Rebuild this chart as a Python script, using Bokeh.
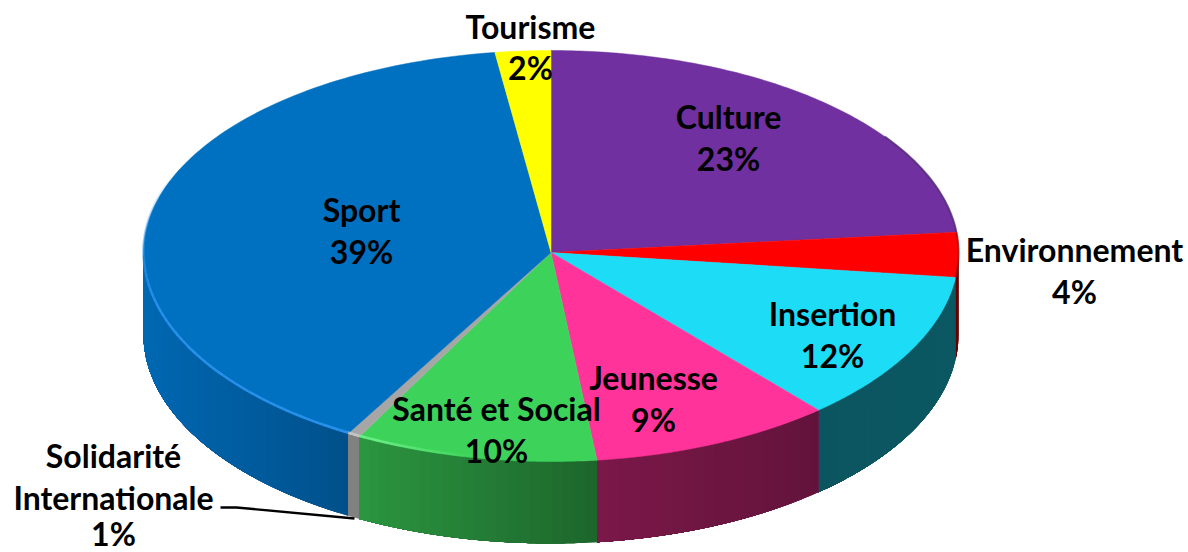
import numpy as np
from bokeh.plotting import figure
from bokeh.models import Range1d
from bokeh.core.properties import value
from bokeh.embed import file_html
from bokeh.resources import INLINE

# Data, clockwise from the top of the pie
categories = ["Culture", "Environnement", "Insertion", "Jeunesse", "Santé et Social",
              "Solidarité Internationale", "Sport", "Tourisme"]
percent_labels = [23, 4, 12, 9, 10, 1, 39, 2]
# slice shares as measured on the picture (the drawn angles)
slice_shares = [23.4, 3.5, 11.7, 9.6, 9.6, 0.5, 39.5, 2.2]
top_colors = ["#7030A0", "#FF0000", "#1DDCF6", "#FF3399", "#3DD35B", "#A6A6A6", "#0070C0", "#FFFF00"]

CX, CY, RX, RY_BACK, RY_FRONT, DEPTH = 550.5, 252.0, 407.5, 202.0, 209.0, 82.0

p = figure(width=1188, height=552, x_range=Range1d(0, 1188), y_range=Range1d(552, 0),
           toolbar_location=None, output_backend="svg", min_border=0)
p.axis.visible = False
p.grid.visible = False
p.outline_line_color = None
p.background_fill_color = "white"
p.border_fill_color = "white"


def ell(t_deg):
    t = np.radians(np.asarray(t_deg, dtype=float))
    c = np.cos(t)
    return CX + RX * np.sin(t), CY - np.where(c >= 0, RY_BACK, RY_FRONT) * c


def shade(hex_color, f):
    r, g, b = (int(hex_color[i:i + 2], 16) for i in (1, 3, 5))
    return "#%02x%02x%02x" % (int(r * f), int(g * f), int(b * f))


def side_factor(x):
    return float(np.interp(x, [143, 350, 600, 818, 958], [0.93, 0.72, 0.48, 0.39, 0.40]))


edges = 3.6 * np.concatenate([[0], np.cumsum(slice_shares)])

# side wall: each slice first as one solid piece, then overlapping bands on top
for i, col in enumerate(top_colors):
    a, b = max(edges[i], 90), min(edges[i + 1], 270)
    if a >= b:
        continue
    t = np.linspace(a, b, 60)
    ex, ey = ell(t)
    base_f = 0.78 if col == "#A6A6A6" else side_factor(ex.mean())
    p.patch(np.concatenate([ex, ex[::-1]]), np.concatenate([ey, ey[::-1] + DEPTH]),
            fill_color=shade(col, base_f), line_color=None)
    if col == "#A6A6A6":
        continue
    # each band covers all that remains of the slice, so no seam can show
    n = max(1, int(np.ceil((b - a) / 1.6)))
    bt = np.linspace(a, b, n + 1)
    for k in range(n):
        seg = np.linspace(bt[k], b, max(2, 3 * (n - k)))
        sx, sy = ell(seg)
        f = side_factor(ell(bt[k])[0] * 0.5 + ell(bt[k + 1])[0] * 0.5)
        p.patch(np.concatenate([sx, sx[::-1]]), np.concatenate([sy, sy[::-1] + DEPTH]),
                fill_color=shade(col, f), line_color=None)

# top faces
xs, ys = [], []
for i in range(len(slice_shares)):
    t = np.linspace(edges[i], edges[i + 1], 120)
    ex, ey = ell(t)
    xs.append([CX] + ex.tolist())
    ys.append([CY] + ey.tolist())
p.patches(xs, ys, fill_color=top_colors, line_color=top_colors, line_width=0.5)

# light rim on the front-left edge
rim_x, rim_y, rim_c, rim_a = [], [], [], []
for i, light in [(4, "#6FF08A"), (5, "#D8D8D8"), (6, "#2A94F0")]:
    t = np.linspace(edges[i], min(edges[i + 1], 292), 60)
    ex, ey = ell(t)
    for k in range(len(t) - 1):
        if t[k] < 190 or t[k] > 292:
            continue
        rim_x.append([ex[k], ex[k + 1]])
        rim_y.append([ey[k] - 1.2, ey[k + 1] - 1.2])
        rim_c.append(light)
        rim_a.append(float(np.interp(t[k], [190, 205, 255, 292], [0.0, 0.9, 0.9, 0.0])))
p.multi_line(rim_x, rim_y, line_color=rim_c, line_alpha=rim_a, line_width=2.5)

# dark soft edge on the right-hand side
for i, dark in [(0, "#4B2670"), (1, "#A00000")]:
    t = np.linspace(max(edges[i], 55), edges[i + 1], 40)
    ex, ey = ell(t)
    p.line(ex, ey, line_color=dark, line_width=2, line_alpha=0.7)

# leader line of the small slice
p.line([220, 236, 354], [507, 507, 518], line_color="black", line_width=2.4)

# labels
label_pos = {
    "Culture": (728, 116, 42), "Environnement": (1074, 249, 42), "Insertion": (832, 313, 42),
    "Jeunesse": (653, 377, 42), "Santé et Social": (496, 408, 42),
    "Sport": (361, 209, 42), "Tourisme": (530, 26, 41),
}
tx, ty, tt = [], [], []
for name, pct in zip(categories, percent_labels):
    if name in label_pos:
        x, y, dy = label_pos[name]
        tx += [x, x]
        ty += [y, y + dy]
        tt += [name, f"{pct}%"]
tx += [113, 113, 113]
ty += [455, 497, 533]
tt += ["Solidarité", "Internationale", f"{percent_labels[5]}%"]
p.text(tx, ty, text=tt, text_align="center", text_baseline="middle",
       text_font=value("Lato"), text_font_size="32px", text_font_style="bold", text_color="black")

open("out.html", "w").write(file_html(p, INLINE))
